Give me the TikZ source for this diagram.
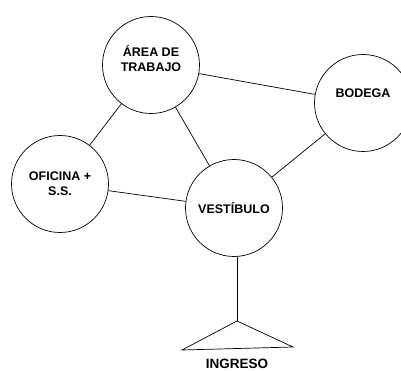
\documentclass[tikz,border=0pt]{standalone}
\usepackage{fontspec}
\setmainfont{Liberation Sans}
\tikzset{
  espacio/.style={circle, draw, line width=0.7pt, minimum size=97pt, inner sep=0pt, align=center, font=\fontsize{12.5}{15}\selectfont\bfseries},
  enlace/.style={line width=0.7pt}
}
\begin{document}
\begin{tikzpicture}[x=1pt, y=-1pt]
                \useasboundingbox (0,0) rectangle (401,371);
                \node[espacio] (area) at (151,65) {ÁREA DE\\TRABAJO\\[-2pt]};
                \node[espacio, label={[yshift=10pt, font=\fontsize{12.5}{15}\selectfont\bfseries]center:BODEGA}] (bodega) at (363,103) {};
                \node[espacio] (oficina) at (60,184) {OFICINA +\\S.S.};
                \node[espacio] (vestibulo) at (234,208) {VESTÍBULO};
                \coordinate (acceso) at (237,321);
                \node[font=\fontsize{13.5}{15}\selectfont\bfseries] (ingreso) at (237,364) {INGRESO};

                \draw[enlace] (area) -- (bodega);
                \draw[enlace] (area) -- (oficina);
                \draw[enlace] (area) -- (vestibulo);
                \draw[enlace] (oficina) -- (vestibulo);
                \draw[enlace] (bodega) -- (vestibulo);
                \draw[enlace] (vestibulo.south -| acceso) -- (acceso);
                \draw[enlace] (acceso) -- (182,350) -- (293,347) -- cycle;
            \end{tikzpicture}
\end{document}
